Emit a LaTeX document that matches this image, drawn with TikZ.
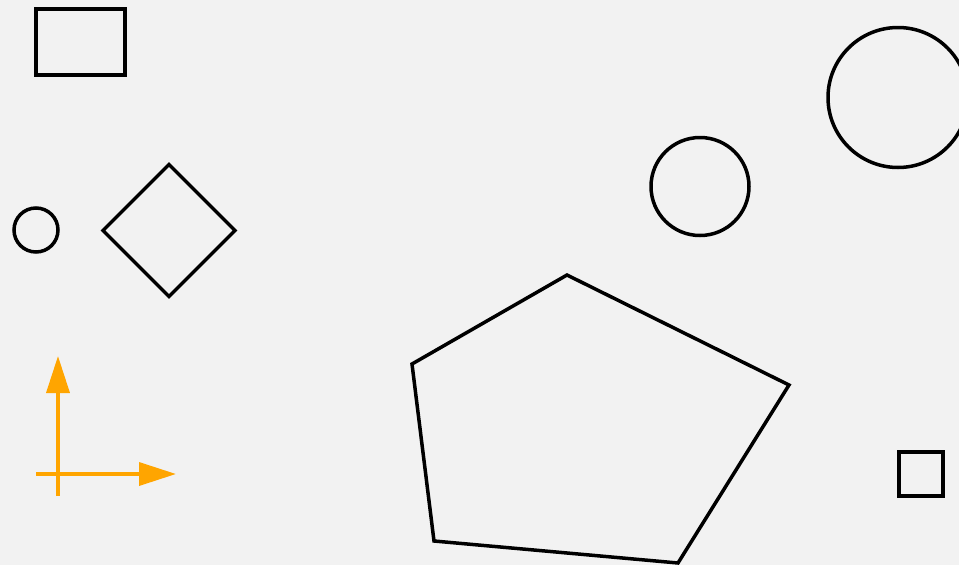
\documentclass[tikz,border=0pt]{standalone}
\usepackage{tikz}
\usetikzlibrary{arrows.meta,shapes.geometric}
\definecolor{PaperGray}{RGB}{242,242,242}
\definecolor{AxisOrange}{RGB}{255,165,0}

\begin{document}
\begin{tikzpicture}[
  x=1pt,y=-1pt,
  outline/.style={draw=black,line width=3.5pt,inner sep=0pt,outer sep=0pt},
  box/.style={outline,rectangle},
  ring/.style={outline,circle},
  rhomb/.style={outline,diamond,aspect=1},
  axis/.style={AxisOrange,line width=3.5pt,-{Triangle[length=37pt,width=23pt]}}]
\fill[PaperGray] (0,0) rectangle (959,565);
\useasboundingbox (0,0) rectangle (959,565);
\clip (0,0) rectangle (959,565);
% plain shapes
\node[box,minimum width=89pt,minimum height=66pt] (frame) at (80.5,42) {};
\node[ring,minimum size=44pt] (dot) at (36,230) {};
\node[rhomb,minimum size=132pt] (kite) at (169,230.5) {};
\node[ring,minimum size=98pt] (midring) at (700,186.5) {};
\node[ring,minimum size=140pt] (bigring) at (898,97.5) {};
\node[box,minimum size=44pt] (tile) at (921,474) {};
% irregular pentagon
\coordinate (p1) at (567,275);
\coordinate (p2) at (789,385);
\coordinate (p3) at (678,563);
\coordinate (p4) at (434,541);
\coordinate (p5) at (412,364);
\draw[line width=3.5pt,line join=miter] (p1) -- (p2) -- (p3) -- (p4) -- (p5) -- cycle;
% axes
\coordinate (ybot) at (58,496);
\coordinate (ytop) at (58,356);
\coordinate (xleft) at (36,474);
\coordinate (xright) at (176,474);
\draw[axis] (ybot) -- (ytop);
\draw[axis] (xleft) -- (xright);
\end{tikzpicture}
\end{document}
